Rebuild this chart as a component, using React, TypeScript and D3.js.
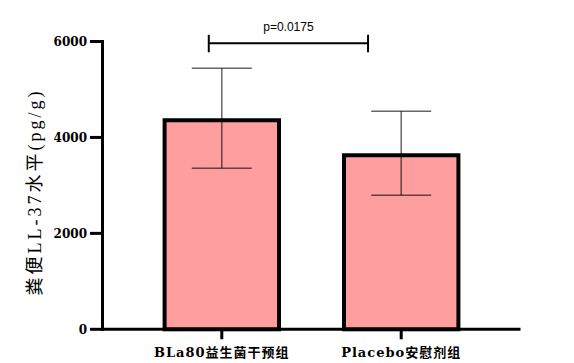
import React from "react";
import * as d3 from "d3";

const categories = ["BLa80益生菌干预组", "Placebo安慰剂组"];
const means = [4400, 3670];
const sds = [1040, 875];
const yTicks = [0, 2000, 4000, 6000];
const yLabel = "粪便LL-37水平(pg/g)";
const pLabel = "p=0.0175";

const W = 574;
const H = 363;

export default function App() {
  const x = d3
    .scaleBand<string>()
    .domain(categories)
    .range([102.5, 520.5])
    .paddingInner(0.34)
    .paddingOuter(0.335);
  const y = d3.scaleLinear().domain([0, 6000]).range([329.3, 41.5]);
  const bw = x.bandwidth();
  const sw = 4;
  const capW = 60;
  const serif = "'DejaVu Serif', 'Liberation Serif', 'Noto Sans CJK SC', serif";
  const labelFont = "'Liberation Serif', 'Noto Sans CJK SC', serif";

  const bx1 = (x(categories[0]) ?? 0) + bw * 0.39;
  const bx2 = (x(categories[1]) ?? 0) + bw * 0.22;
  const bracketY = 43.3;

  return (
    <svg
      width={W}
      height={H}
      style={{ position: "absolute", left: 0, top: 0, display: "block", background: "#fff" }}
    >
      {/* bars */}
      {categories.map((c, i) => {
        const x0 = x(c) ?? 0;
        const top = y(means[i]);
        return (
          <rect
            key={c}
            x={x0 + sw / 2}
            y={top + sw / 2}
            width={bw - sw}
            height={y(0) - top - sw / 2}
            fill="#FF9E9E"
            stroke="#000"
            strokeWidth={sw}
          />
        );
      })}
      {/* error bars */}
      {categories.map((c, i) => {
        const cx = (x(c) ?? 0) + bw / 2;
        const hi = y(means[i] + sds[i]);
        const lo = y(means[i] - sds[i]);
        return (
          <g key={"e" + c} stroke="#000" strokeOpacity={0.6} strokeWidth={1.5}>
            <line x1={cx} x2={cx} y1={hi} y2={lo} />
            <line x1={cx - capW / 2} x2={cx + capW / 2} y1={hi} y2={hi} />
            <line x1={cx - capW / 2} x2={cx + capW / 2} y1={lo} y2={lo} />
          </g>
        );
      })}
      {/* y axis */}
      <line x1={102.5} x2={102.5} y1={y(6000) - 1.5} y2={y(0) + 1.5} stroke="#000" strokeWidth={3} />
      {yTicks.map((t) => (
        <g key={t}>
          <line x1={90} x2={102.5} y1={y(t)} y2={y(t)} stroke="#000" strokeWidth={3} />
          <text
            x={87}
            y={y(t)}
            dy="0.36em"
            textAnchor="end"
            fontFamily={serif}
            fontWeight="bold"
            fontSize={12}
            fill="#000"
          >
            {t}
          </text>
        </g>
      ))}
      {/* x axis */}
      <line x1={101} x2={520.5} y1={y(0)} y2={y(0)} stroke="#000" strokeWidth={3} />
      {categories.map((c) => {
        const cx = (x(c) ?? 0) + bw / 2;
        return (
          <g key={"t" + c}>
            <line x1={cx} x2={cx} y1={y(0)} y2={y(0) + 10} stroke="#000" strokeWidth={3} />
            <text
              x={cx}
              y={357}
              textAnchor="middle"
              fontFamily={serif}
              fontWeight="bold"
              fontSize={13}
              letterSpacing={1}
              fill="#000"
            >
              {c}
            </text>
          </g>
        );
      })}
      {/* y label */}
      <text
        transform={`translate(35, 192) rotate(-90)`}
        textAnchor="middle"
        dominantBaseline="central"
        fontFamily={labelFont}
        fontSize={18}
        letterSpacing={3}
        fill="#000"
      >
        {yLabel}
      </text>
      {/* significance bracket */}
      <g stroke="#000" strokeWidth={2}>
        <line x1={bx1} x2={bx2} y1={bracketY} y2={bracketY} />
        <line x1={bx1} x2={bx1} y1={bracketY - 8.5} y2={bracketY + 9} />
        <line x1={bx2} x2={bx2} y1={bracketY - 8.5} y2={bracketY + 9} />
      </g>
      <text
        x={(bx1 + bx2) / 2}
        y={31}
        textAnchor="middle"
        fontFamily="'Liberation Sans', Arial, sans-serif"
        fontSize={12}
        fill="#000"
      >
        {pLabel}
      </text>
    </svg>
  );
}
